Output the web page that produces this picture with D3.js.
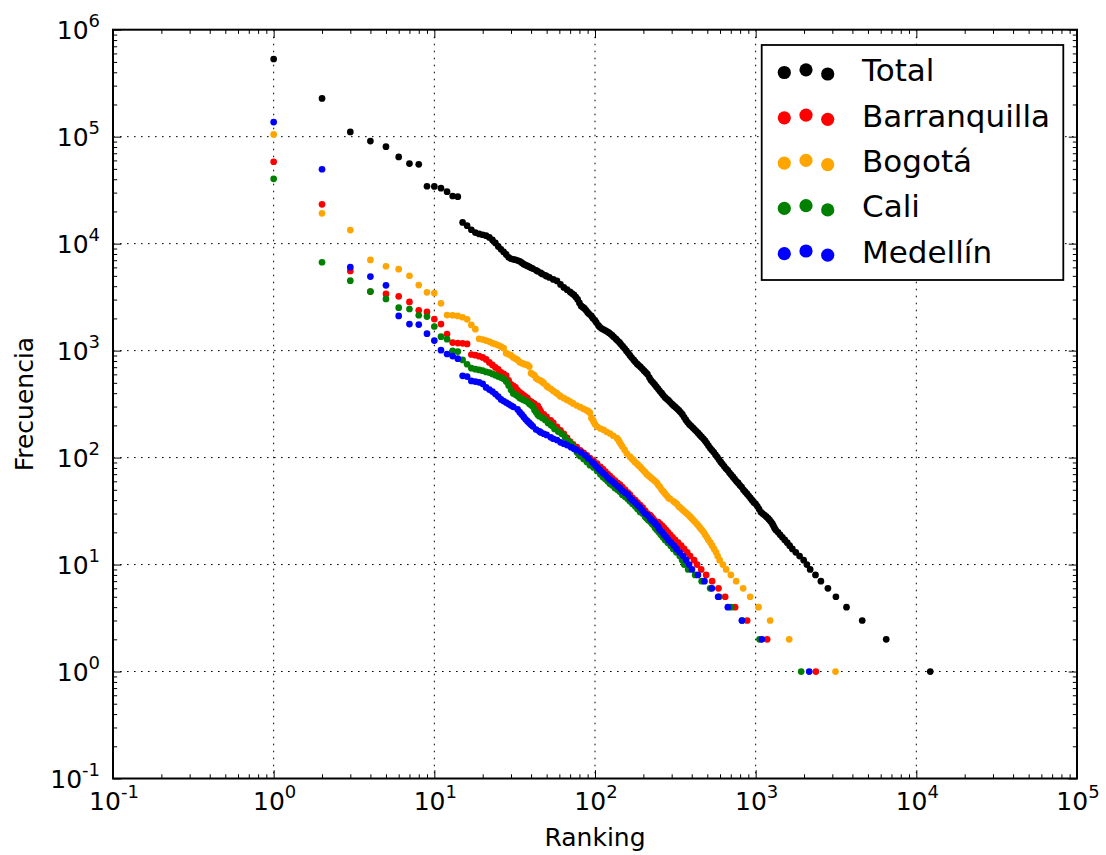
<!DOCTYPE html>
<html><head><meta charset="utf-8">
<script src="https://cdn.jsdelivr.net/npm/d3@7"></script>
<style>
body{margin:0;background:#fff}
svg{display:block}
text{font-family:"DejaVu Sans",sans-serif;fill:#000}
</style>
</head><body>
<svg id="chart" width="1106" height="855"></svg>
<script>
// ---------------- data ----------------
const seriesNames = ["Total", "Barranquilla", "Bogotá", "Cali", "Medellín"];
const seriesColors = ["#000000", "#ff0000", "#ffa500", "#008000", "#0000ff"];
const xTickExponents = [-1, 0, 1, 2, 3, 4, 5];
const yTickExponents = [-1, 0, 1, 2, 3, 4, 5, 6];
const xLabel = "Ranking";
const yLabel = "Frecuencia";

// [ranking, frecuencia]
const totalPts = [[1,532000],[2,228000],[3,110700],[4,91000],[5,80700],[6,64600],[7,56000],[8,55200],[9,34400],[10,34300],[11,33000],[12,30600],[13,27900],[14,27500],
[15,15780],[16,14730],[17,13490],[18,12700],[19,12320],[20,12110],[21,11880],[22,11430],[23,10830],[24,10150],[25,9415],[26,8865],[27,8365],[28,7925],[29,7462],[30,7225],[31,7140],[32,7071],[33,6960],[34,6847],[35,6640],[36,6432],[37,6300],[38,6188],[39,6070],[40,5954],[41,5850],[43,5630],[44,5520],[46,5324],[47,5200],[49,5067],[50,4960],[52,4831],[55,4628],[58,4481],[61,4155],[64,3896],[67,3709],[70,3537],[72,3420],[74,3316],[76,3170],[78,3009],[80,2791],[82,2617],[84,2550],[86,2480],[88,2380],[90,2275],[92,2200],[95,2110],[97,2010],[100,1915],[102,1830],[105,1720],[107,1660],[110,1609],[113,1575],[116,1541],[119,1505],[122,1470],[125,1430],[128,1387],[131,1340],[135,1286],[138,1240],[142,1193],[145,1145],[149,1095],[153,1045],[157,994],[161,948],[165,902],[169,860],[174,819],[178,785],[183,751],[187,728],[192,704],[197,676],[202,650],[207,625],[212,602],[218,560],[223,527],[229,505],[235,483],[241,460],[247,439],[253,419],[260,400],[266,382],[273,365],[280,353],[287,342],[294,329],[302,316],[309,306],[317,296],[325,286],[333,276],[341,265],[350,253],[359,238],[368,225],[377,214],[387,204],[397,197],[407,190],[417,183],[428,176],[439,169],[450,162],[461,156],[473,150],[485,143],[497,136],[509,129],[522,122],[535,117],[549,112],[563,106],[577,101],[591,96],[606,91],[621,87],[637,83],[653,79],[670,76],[687,72],[704,69],[722,66],[740,63],[759,60],[778,58],[798,55],[818,53],[839,50],[860,48],[882,46],[904,44],[927,42],[950,40],[975,38],[999,37],[1025,35],[1050,33],[1077,31],[1104,30],[1135,29],[1165,28],[1196,27],[1222,26],[1249,25],[1272,24],[1290,23],[1310,22],[1335,21],[1380,20],[1421,19],[1467,18],[1518,17],[1573,16],[1628,15],[1692,14],[1777,13],[1877,12],[1990,11],[2084,10],[2184,9],[2357,8],[2547,7],[2816,6],[3158,5],[3676,4],[4604,3],[6495,2],[12210,1]];

const barranquillaPts = [[1,58300],[2,23300],[3,5560],[4,3560],[5,3390],[6,3220],[7,2850],[8,2380],[9,2300],[10,1970],[11,1770],[12,1430],[13,1190],[14,1175],[15,1170],[16,1155],[17,920],[18,906],[19,887],[20,864],[21,828],[22,776],[23,735],[24,697],[25,667],[26,626],[27,605],[28,583],[29,527],[30,483],[31,468],[32,453],[33,426],[34,407],[35,394],[36,381],[37,370],[38,359],[39,340],[40,333],[41,325],[42,318],[44,304],[45,287],[46,270],[48,253],[50,240],[53,223],[55,211],[58,194],[61,180],[64,167],[67,153],[70,141],[73,133],[77,125],[81,117],[85,111],[89,105],[93,99],[98,93],[103,88],[108,82],[112,78],[116,74],[120,70],[124,67],[128,64],[133,61],[138,58],[143,56],[148,53],[154,50],[160,47],[165,45],[171,42],[178,40],[184,38],[191,36],[198,34],[205,32],[212,30],[220,29],[224,28],[229,27],[233,26],[247,25],[254,24],[262,23],[269,22],[277,21],[285,20],[294,19],[304,18],[315,17],[329,16],[344,15],[359,14],[375,13],[391,12],[414,11],[432,10],[458,9],[492,8],[536,7],[587,6],[646,5],[745,4],[885,3],[1179,2],[2370,1]];

const bogotaPts = [[1,105000],[2,19200],[3,13400],[4,7040],[5,6150],[6,5770],[7,5010],[8,4100],[9,3510],[10,3450],[11,2770],[12,2150],[13,2140],[14,2110],[15,2050],[16,1960],[17,1740],[18,1585],[19,1290],[20,1270],[21,1240],[22,1214],[23,1173],[24,1150],[25,1123],[26,1090],[27,1053],[28,946],[29,925],[30,902],[31,864],[32,840],[33,819],[34,779],[35,765],[36,751],[37,742],[38,735],[39,709],[40,615],[41,600],[42,587],[43,552],[44,540],[45,531],[46,523],[47,510],[48,496],[50,468],[51,455],[53,439],[55,420],[57,405],[58,398],[60,382],[61,373],[64,359],[67,346],[70,334],[73,321],[77,307],[81,296],[85,285],[89,276],[91,270],[93,262],[95,235],[97,224],[98,218],[100,205],[103,195],[108,187],[113,182],[118,174],[124,168],[130,160],[137,152],[140,146],[142,140],[145,133],[148,127],[153,118],[158,109],[165,102],[169,98],[173,95],[177,91],[182,88],[186,85],[191,82],[195,79],[200,76],[205,73],[210,70],[215,68],[220,66],[225,64],[231,62],[237,60],[243,58],[248,55],[254,53],[260,50],[267,48],[273,46],[280,44],[287,42],[294,41],[308,39],[315,38],[323,37],[331,35],[339,34],[347,33],[355,32],[364,31],[373,30],[382,29],[391,28],[400,27],[410,26],[420,25],[431,24],[441,23],[451,22],[463,21],[475,20],[485,19],[497,18],[508,17],[523,16],[536,15],[551,14],[567,13],[580,12],[597,11],[625,10],[655,9],[701,8],[756,7],[836,6],[924,5],[1041,4],[1231,3],[1617,2],[3140,1]];

const caliPts = [[1,40400],[2,6700],[3,4510],[4,3560],[5,3040],[6,2520],[7,2450],[8,2140],[9,2080],[10,1680],[11,1350],[12,1280],[13,994],[14,979],[15,819],[16,746],[17,685],[18,670],[19,660],[20,650],[21,632],[22,623],[23,606],[24,590],[25,574],[26,560],[27,547],[28,513],[29,473],[30,429],[31,398],[32,388],[33,377],[34,361],[35,353],[36,346],[37,339],[38,332],[39,318],[40,310],[41,301],[42,279],[43,265],[44,251],[45,244],[47,235],[49,225],[51,211],[53,203],[54,198],[56,185],[59,175],[62,167],[65,156],[68,143],[70,137],[72,131],[74,122],[77,113],[79,108],[81,103],[85,97],[89,91],[93,85],[98,81],[103,75],[108,70],[112,66],[116,63],[120,60],[124,57],[128,55],[133,52],[138,50],[143,48],[148,45],[154,43],[160,41],[165,39],[171,37],[178,35],[184,33],[191,31],[198,30],[205,28],[210,27],[215,26],[222,25],[227,24],[233,23],[237,22],[243,21],[250,20],[257,19],[265,18],[273,17],[284,16],[296,15],[307,14],[321,13],[337,12],[349,11],[359,10],[380,9],[420,8],[461,7],[521,6],[593,5],[704,4],[824,3],[1056,2],[1920,1]];

const medellinPts = [[1,137000],[2,49600],[3,6020],[4,4920],[5,4080],[6,2110],[7,1770],[8,1750],[9,1440],[10,1240],[11,1010],[12,930],[13,890],[14,840],[15,581],[16,572],[17,521],[18,513],[19,505],[20,489],[21,453],[22,432],[23,414],[24,392],[25,372],[26,350],[27,338],[28,327],[29,317],[30,307],[31,298],[33,282],[34,266],[35,253],[36,240],[37,228],[38,219],[39,211],[40,203],[41,196],[43,183],[45,176],[46,172],[48,167],[50,163],[53,155],[55,150],[58,146],[61,139],[64,135],[67,131],[71,125],[74,121],[77,118],[82,112],[87,105],[91,98],[96,91],[99,87],[102,83],[105,79],[108,76],[112,72],[116,69],[120,65],[124,62],[128,60],[133,57],[138,54],[143,52],[148,49],[154,47],[160,45],[165,42],[171,40],[178,38],[184,36],[191,34],[198,32],[205,30],[212,29],[220,27],[225,26],[233,25],[238,24],[245,23],[249,22],[254,21],[262,20],[269,19],[278,18],[286,17],[298,16],[310,15],[322,14],[336,13],[354,12],[369,11],[385,10],[401,9],[437,8],[480,7],[534,6],[584,5],[671,4],[821,3],[1093,2],[2154,1]];

const seriesData = [totalPts, barranquillaPts, bogotaPts, caliPts, medellinPts];

// ---------------- drawing ----------------
const svg = d3.select("#chart");
const plotL = 113, plotR = 1077, plotT = 29.7, plotB = 778.5;
const x = d3.scaleLog().domain([0.1, 1e5]).range([plotL, plotR]);
const y = d3.scaleLog().domain([0.1, 1e6]).range([plotB, plotT]);

const xMajor = xTickExponents.map(e => Math.pow(10, e));
const yMajor = yTickExponents.map(e => Math.pow(10, e));
const minorOf = exps => {
  const out = [];
  exps.slice(0, -1).forEach(e => { [2,3,4,5,6,7,8,9].forEach(d => out.push(d * Math.pow(10, e))); });
  return out;
};
const xMinor = minorOf(xTickExponents);
const yMinor = minorOf(yTickExponents);

// grid (dotted, major only)
const grid = svg.append("g").attr("stroke", "#000").attr("stroke-width", 1)
  .attr("stroke-dasharray", "1.6,5.4");
grid.selectAll("line.gx").data(xMajor.slice(1, -1)).join("line").attr("class", "gx")
  .attr("x1", d => x(d)).attr("x2", d => x(d)).attr("y1", plotT).attr("y2", plotB);
grid.selectAll("line.gy").data(yMajor.slice(1, -1)).join("line").attr("class", "gy")
  .attr("y1", d => y(d)).attr("y2", d => y(d)).attr("x1", plotL).attr("x2", plotR);

// points
seriesData.forEach((pts, i) => {
  svg.append("g").selectAll("circle").data(pts).join("circle")
    .attr("cx", d => x(d[0])).attr("cy", d => y(d[1])).attr("r", 3.35)
    .attr("fill", seriesColors[i]);
});

// ticks on all four sides (inward)
function axisTicks(axisFn, scale, vals, size, transform) {
  const g = svg.append("g").attr("transform", transform)
    .call(axisFn(scale).tickValues(vals).tickSize(-size).tickFormat(""));
  g.select(".domain").remove();
  g.selectAll(".tick line").attr("stroke", "#000").attr("stroke-width", 1);
  g.selectAll(".tick text").remove();
}
axisTicks(d3.axisBottom, x, xMajor, 8.3, `translate(0,${plotB})`);
axisTicks(d3.axisBottom, x, xMinor, 4.2, `translate(0,${plotB})`);
axisTicks(d3.axisTop, x, xMajor, 8.3, `translate(0,${plotT})`);
axisTicks(d3.axisTop, x, xMinor, 4.2, `translate(0,${plotT})`);
axisTicks(d3.axisLeft, y, yMajor, 8.3, `translate(${plotL},0)`);
axisTicks(d3.axisLeft, y, yMinor, 4.2, `translate(${plotL},0)`);
axisTicks(d3.axisRight, y, yMajor, 8.3, `translate(${plotR},0)`);
axisTicks(d3.axisRight, y, yMinor, 4.2, `translate(${plotR},0)`);

// frame
svg.append("rect").attr("x", plotL).attr("y", plotT)
  .attr("width", plotR - plotL).attr("height", plotB - plotT)
  .attr("fill", "none").attr("stroke", "#000").attr("stroke-width", 2);

// tick labels  10^e
function powLabel(g, e) {
  g.append("tspan").text("10");
  g.append("tspan").attr("dy", -11.7).attr("font-size", 18).text(String(e));
}
xTickExponents.forEach(e => {
  const t = svg.append("text").attr("x", x(Math.pow(10, e)) + 1).attr("y", 810)
    .attr("text-anchor", "middle").attr("font-size", 25);
  powLabel(t, e);
});
yTickExponents.forEach(e => {
  const t = svg.append("text").attr("x", 100).attr("y", y(Math.pow(10, e)) + 9.1)
    .attr("text-anchor", "end").attr("font-size", 25);
  powLabel(t, e);
});

// axis labels
svg.append("text").attr("x", (plotL + plotR) / 2).attr("y", 846)
  .attr("text-anchor", "middle").attr("font-size", 25).text(xLabel);
svg.append("text").attr("transform", `translate(33,${(plotT + plotB) / 2}) rotate(-90)`)
  .attr("text-anchor", "middle").attr("font-size", 25).text(yLabel);

// legend
const lg = svg.append("g");
lg.append("rect").attr("x", 761.7).attr("y", 45).attr("width", 301.6).attr("height", 235)
  .attr("fill", "#fff").attr("stroke", "#000").attr("stroke-width", 1.8);
const dotX = [784.3, 806, 827.7], dotDy = [2.5, -0.2, 4.0];
seriesNames.forEach((name, i) => {
  const cy = 70 + i * 45.3;
  dotX.forEach((dx, k) => {
    lg.append("circle").attr("cx", dx).attr("cy", cy + dotDy[k]).attr("r", 6.6)
      .attr("fill", seriesColors[i]);
  });
  lg.append("text").attr("x", 862).attr("y", cy + 11.4).attr("font-size", 31).text(name);
});
</script>
</body></html>
